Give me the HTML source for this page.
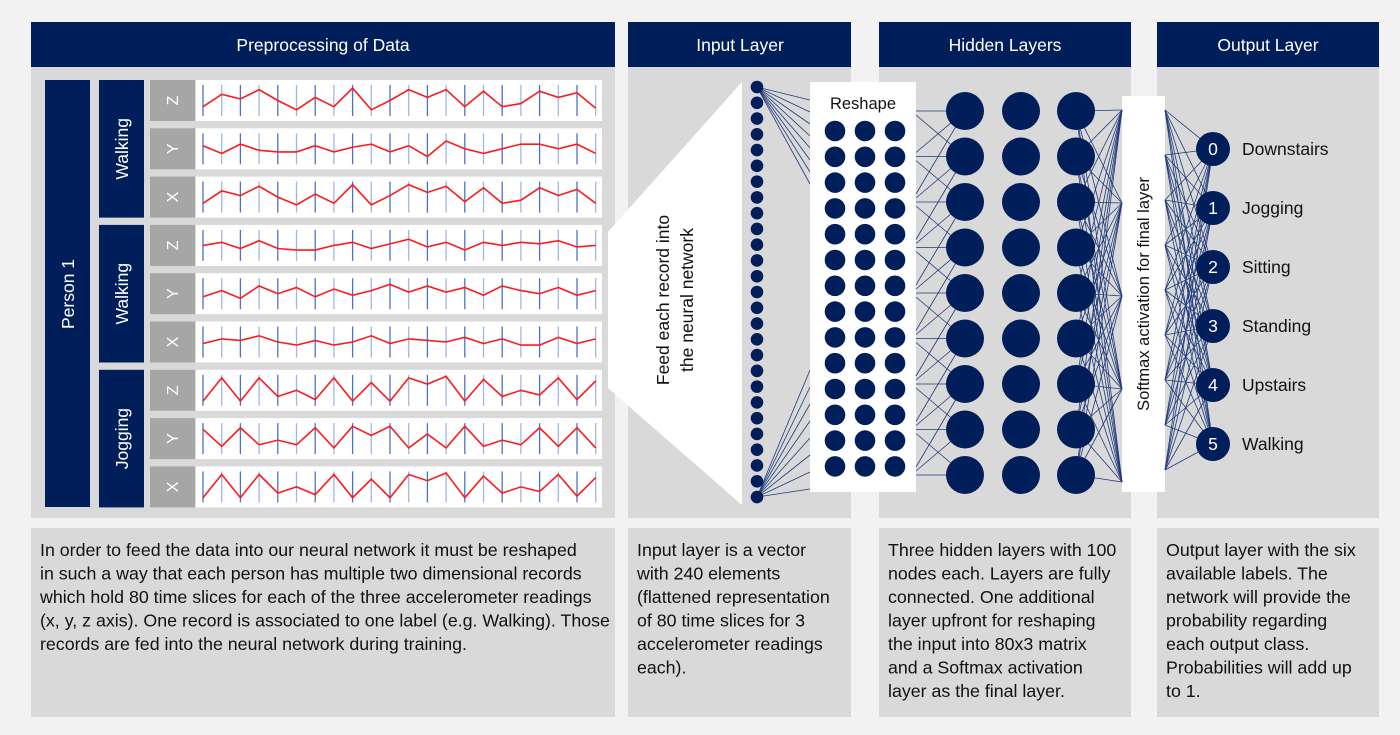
<!DOCTYPE html>
<html><head><meta charset="utf-8"><style>
body{margin:0;background:#f2f2f2;width:1400px;height:735px;overflow:hidden;font-family:"Liberation Sans",sans-serif}
svg{display:block}
.t{font-family:"Liberation Sans",sans-serif}
</style></head><body>
<svg id="s" width="1400" height="735" viewBox="0 0 1400 735">
<rect width="1400" height="735" fill="#f2f2f2"/>
<g fill="#001e5a">
<rect x="31" y="22" width="584" height="45"/>
<rect x="628" y="22" width="223" height="45"/>
<rect x="879" y="22" width="252" height="45"/>
<rect x="1157" y="22" width="222" height="45"/>
</g>
<g fill="#fff" font-size="17.5" text-anchor="middle" class="t">
<text x="323" y="51">Preprocessing of Data</text>
<text x="740" y="51">Input Layer</text>
<text x="1005" y="51">Hidden Layers</text>
<text x="1268" y="51">Output Layer</text>
</g>
<g fill="#d9d9d9">
<rect x="31" y="67" width="584" height="451"/>
<rect x="628" y="67" width="223" height="451"/>
<rect x="879" y="67" width="252" height="451"/>
<rect x="1157" y="67" width="222" height="451"/>
<rect x="31" y="528" width="584" height="189"/>
<rect x="628" y="528" width="223" height="189"/>
<rect x="879" y="528" width="252" height="189"/>
<rect x="1157" y="528" width="222" height="189"/>
</g>
<polygon points="608,232 742,82 742,505 608,388" fill="#fff"/>
<rect x="45" y="80" width="45" height="427" fill="#001e5a"/>
<text transform="translate(74,294) rotate(-90)" fill="#fff" font-size="17.5" text-anchor="middle" class="t">Person 1</text>
<g id="sig"></g>
<g id="net"></g>
<text transform="translate(669,300) rotate(-90)" font-size="17.5" text-anchor="middle" fill="#111" class="t">Feed each record into</text>
<text transform="translate(693,300) rotate(-90)" font-size="17.5" text-anchor="middle" fill="#111" class="t">the neural network</text>
<g font-size="17.8" fill="#111" class="t">
<text x="40" y="556"><tspan x="40">In order to feed the data into our neural network it must be reshaped</tspan><tspan x="40" dy="23.5">in such a way that each person has multiple two dimensional records</tspan><tspan x="40" dy="23.5">which hold 80 time slices for each of the three accelerometer readings</tspan><tspan x="40" dy="23.5">(x, y, z axis). One record is associated to one label (e.g. Walking). Those</tspan><tspan x="40" dy="23.5">records are fed into the neural network during training.</tspan></text>
<text x="637" y="556"><tspan x="637">Input layer is a vector</tspan><tspan x="637" dy="23.5">with 240 elements</tspan><tspan x="637" dy="23.5">(flattened representation</tspan><tspan x="637" dy="23.5">of 80 time slices for 3</tspan><tspan x="637" dy="23.5">accelerometer readings</tspan><tspan x="637" dy="23.5">each).</tspan></text>
<text x="888" y="556"><tspan x="888">Three hidden layers with 100</tspan><tspan x="888" dy="23.5">nodes each. Layers are fully</tspan><tspan x="888" dy="23.5">connected. One additional</tspan><tspan x="888" dy="23.5">layer upfront for reshaping</tspan><tspan x="888" dy="23.5">the input into 80x3 matrix</tspan><tspan x="888" dy="23.5">and a Softmax activation</tspan><tspan x="888" dy="23.5">layer as the final layer.</tspan></text>
<text x="1166" y="556"><tspan x="1166">Output layer with the six</tspan><tspan x="1166" dy="23.5">available labels. The</tspan><tspan x="1166" dy="23.5">network will provide the</tspan><tspan x="1166" dy="23.5">probability regarding</tspan><tspan x="1166" dy="23.5">each output class.</tspan><tspan x="1166" dy="23.5">Probabilities will add up</tspan><tspan x="1166" dy="23.5">to 1.</tspan></text>
</g>
</svg>
<script>
const NS='http://www.w3.org/2000/svg';
const activities=['Walking','Walking','Jogging'];
const axes=['Z','Y','X'];
const walkZ=[0.3,0.7,0.55,0.85,0.5,0.2,0.6,0.3,0.9,0.2,0.5,0.85,0.6,0.85,0.3,0.8,0.3,0.4,0.8,0.6,0.75,0.25];
const walkY=[0.6,0.35,0.65,0.45,0.4,0.4,0.6,0.4,0.55,0.65,0.4,0.6,0.25,0.75,0.5,0.35,0.5,0.65,0.65,0.5,0.65,0.35];
const walkX=[0.3,0.7,0.55,0.85,0.5,0.25,0.6,0.3,0.9,0.25,0.55,0.9,0.65,0.85,0.35,0.8,0.3,0.4,0.8,0.55,0.75,0.3];
const walk2Z=[0.5,0.6,0.4,0.65,0.4,0.35,0.35,0.5,0.6,0.4,0.55,0.7,0.45,0.6,0.35,0.6,0.5,0.6,0.55,0.65,0.45,0.5];
const walk2Y=[0.4,0.6,0.35,0.75,0.5,0.7,0.4,0.65,0.45,0.6,0.8,0.55,0.75,0.55,0.7,0.45,0.75,0.6,0.5,0.7,0.45,0.6];
const walk2X=[0.45,0.6,0.55,0.7,0.5,0.4,0.55,0.4,0.5,0.7,0.45,0.6,0.55,0.5,0.65,0.45,0.6,0.4,0.4,0.65,0.45,0.6];
const jogZ=[0.15,0.9,0.15,0.9,0.3,0.5,0.2,0.9,0.15,0.75,0.15,0.9,0.7,0.95,0.15,0.85,0.3,0.5,0.35,0.9,0.2,0.8];
const jogY=[0.8,0.25,0.85,0.3,0.45,0.3,0.85,0.2,0.9,0.6,0.9,0.2,0.65,0.2,0.9,0.25,0.45,0.3,0.85,0.25,0.85,0.2];
const jogX=[0.15,0.9,0.15,0.9,0.3,0.5,0.25,0.9,0.15,0.75,0.15,0.9,0.7,0.95,0.15,0.85,0.3,0.5,0.35,0.9,0.2,0.8];
const series=[walkZ,walkY,walkX,walk2Z,walk2Y,walk2X,jogZ,jogY,jogX];
const outputLabels=['Downstairs','Jogging','Sitting','Standing','Upstairs','Walking'];
function el(tag,attrs,parent){const e=document.createElementNS(NS,tag);for(const k in attrs)e.setAttribute(k,attrs[k]);parent.appendChild(e);return e;}
const sig=document.getElementById('sig');
const rowY=i=>80+i*48.3, rowH=41;
const xs=i=>203+i*18.7;
const ys=(r,v)=>rowY(r)+rowH-5-v*(rowH-10);
activities.forEach((a,g)=>{
  const y0=rowY(g*3), y1=rowY(g*3+2)+rowH;
  const b=el('rect',{x:99,y:y0,width:45,height:y1-y0,fill:'#001e5a'},sig);
  
  
  const t=el('text',{transform:`translate(128,${(y0+y1)/2}) rotate(-90)`,fill:'#fff','font-size':17.5,'text-anchor':'middle',class:'t'},sig);
  t.textContent=a;
  
  
});
series.forEach((vals,r)=>{
  const y=rowY(r);
  const ab=el('rect',{x:150,y:y,width:45,height:rowH,fill:'#a6a6a6'},sig);
  
  
  const at=el('text',{transform:`translate(178,${y+rowH/2}) rotate(-90)`,fill:'#fff','font-size':16,'text-anchor':'middle',class:'t'},sig);
  at.textContent=axes[r%3];
  
  
  const p=el('rect',{x:196,y:y,width:406,height:rowH,fill:'#fff'},sig);
  
  
  vals.forEach((v,i)=>{
    const l=el('line',{x1:xs(i),x2:xs(i),y1:y+5,y2:y+rowH-5,stroke:i%2?'#9db7e3':'#4a72c4','stroke-width':1.3},sig);
    
    
  });
  const pl=el('polyline',{points:vals.map((v,i)=>xs(i)+','+ys(r,v)).join(' '),fill:'none',stroke:'#ff1a1a','stroke-width':1.6},sig);
  
  
});
const net=document.getElementById('net');
const navy='#001e5a';
function line(x1,y1,x2,y2){const l=el('line',{x1,y1,x2,y2,stroke:'#1f3a7a','stroke-width':0.8},net);}
for(let k=0;k<8;k++){line(757,87,810,100+k*12);line(757,497,810,370+k*17);}
const rb=el('rect',{x:810,y:82,width:106,height:410,fill:'#fff'},net);

const rt=el('text',{x:863,y:109,'font-size':16.5,'text-anchor':'middle',fill:'#111',class:'t'},net);rt.textContent='Reshape';

const sb=el('rect',{x:1122,y:96,width:43,height:396,fill:'#fff'},net);

const st=el('text',{transform:'translate(1149,294) rotate(-90)','font-size':16.5,'text-anchor':'middle',fill:'#111',class:'t'},net);st.textContent='Softmax activation for final layer';

const hy=j=>111+j*45.5;
for(let a=0;a<9;a++)for(let b=0;b<9;b++)if(Math.abs(a-b)<=1||a===b+2)line(916,hy(a)+(b-a)*4,965,hy(b));
for(let a=0;a<9;a++)for(let k=0;k<5;k++)line(1076,hy(a),1122,110+k*93);
for(let k=0;k<9;k++)for(let o=0;o<6;o++)line(1165,110+k*45,1213,149+o*59);
for(let i=0;i<27;i++){const c=el('circle',{cx:757,cy:87+i*15.77,r:6.3,fill:navy},net);}
for(let r=0;r<14;r++)for(let c=0;c<3;c++){const e=el('circle',{cx:835+c*30,cy:131+r*25.8,r:10.3,fill:navy},net);}
for(let r=0;r<9;r++)for(let c=0;c<3;c++){const e=el('circle',{cx:[965,1021,1076][c],cy:hy(r),r:19,fill:navy},net);}
outputLabels.forEach((lab,o)=>{
  const y=149+o*59;
  const c=el('circle',{cx:1213,cy:y,r:17,fill:navy},net);
  
  const n=el('text',{x:1213,y:y+6,'font-size':17.5,'text-anchor':'middle',fill:'#fff',class:'t'},net);n.textContent=o;
  
  const t=el('text',{x:1242,y:y+6,'font-size':17.5,fill:'#111',class:'t'},net);t.textContent=lab;
  
});
</script>
</body></html>
